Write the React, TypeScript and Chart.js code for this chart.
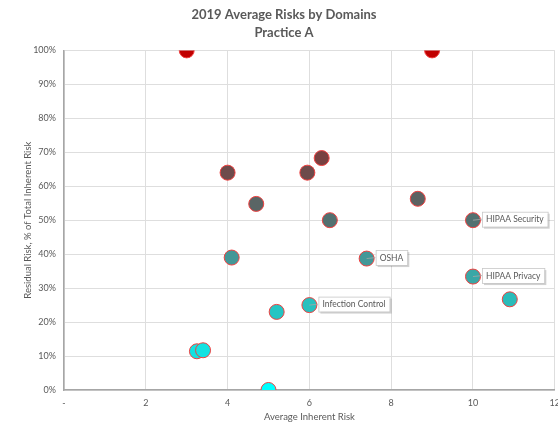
import React, { useEffect, useRef } from "react";
import { Chart, registerables } from "chart.js";

Chart.register(...registerables);

const xValues = [3.0, 9.0, 4.0, 5.95, 6.3, 4.7, 6.5, 8.65, 10.0, 4.1, 7.4, 10.0, 10.9, 6.0, 5.2, 3.25, 3.4, 5.0];
const yValues = [100, 100, 64, 64, 68.3, 54.8, 50, 56.3, 50, 39, 38.7, 33.4, 26.7, 25, 23, 11.4, 11.7, 0];
const pointLabels = ["", "", "", "", "", "", "", "", "HIPAA Security", "", "OSHA", "HIPAA Privacy", "", "Infection Control", "", "", "", ""];
const titleLines = ["2019 Average Risks by Domains", "Practice A"];
const xTitle = "Average Inherent Risk";
const yTitle = "Residual Risk, % of Total Inherent Risk";

const FONT = "Lato, 'Open Sans', sans-serif";
const TEXT = "#595959";

const stops: [number, number[]][] = [
  [0, [0, 255, 255]],
  [25, [40, 192, 190]],
  [40, [70, 148, 148]],
  [50, [82, 112, 112]],
  [56, [92, 98, 98]],
  [65, [112, 72, 72]],
  [100, [192, 0, 0]],
];
function colorFor(v: number) {
  for (let i = 0; i < stops.length - 1; i++) {
    const [a, ca] = stops[i];
    const [b, cb] = stops[i + 1];
    if (v >= a && v <= b) {
      const t = (v - a) / (b - a);
      const c = ca.map((x, k) => Math.round(x + (cb[k] - x) * t));
      return `rgb(${c[0]},${c[1]},${c[2]})`;
    }
  }
  return "rgb(192,0,0)";
}

const labelPlugin = {
  id: "calloutLabels",
  afterDatasetsDraw(chart: any) {
    const ctx = chart.ctx;
    const meta = chart.getDatasetMeta(0);
    ctx.save();
    ctx.font = `8.5px ${FONT}`;
    meta.data.forEach((el: any, i: number) => {
      const text = pointLabels[i];
      if (!text) return;
      const px = el.x;
      const py = el.y;
      const w = ctx.measureText(text).width + 8;
      const h = 15;
      const bx = px + 9;
      const by = py - h / 2 - 1;
      ctx.strokeStyle = "#a6a6a6";
      ctx.lineWidth = 0.8;
      ctx.beginPath();
      ctx.moveTo(px, py);
      ctx.lineTo(bx, by + h / 2);
      ctx.stroke();
      ctx.fillStyle = "rgba(0,0,0,0.18)";
      ctx.fillRect(bx + 2, by + 2, w, h);
      ctx.fillStyle = "#ffffff";
      ctx.fillRect(bx, by, w, h);
      ctx.strokeStyle = "#c8c8c8";
      ctx.strokeRect(bx + 0.5, by + 0.5, w, h);
      ctx.fillStyle = TEXT;
      ctx.textBaseline = "middle";
      ctx.textAlign = "left";
      ctx.fillText(text, bx + 4, by + h / 2 + 0.5);
    });
    ctx.restore();
  },
};

export default function App() {
  const ref = useRef<HTMLCanvasElement>(null);
  useEffect(() => {
    if (!ref.current) return;
    const data = xValues.map((x, i) => ({ x, y: yValues[i] }));
    const chart = new Chart(ref.current, {
      type: "scatter",
      data: {
        datasets: [
          {
            data,
            pointRadius: 7.5,
            pointHoverRadius: 7.5,
            pointBackgroundColor: yValues.map(colorFor),
            pointBorderColor: "#f04040",
            pointBorderWidth: 1,
          },
        ],
      },
      options: {
        responsive: false,
        animation: false,
        layout: { padding: { left: 0, right: 0, top: 0, bottom: 0 } },
        plugins: {
          legend: { display: false },
          tooltip: { enabled: false },
          title: {
            display: true,
            text: titleLines,
            color: TEXT,
            font: { family: FONT, size: 13, weight: "bold", lineHeight: 1.4 },
            padding: { top: 6, bottom: 8 },
          },
        },
        scales: {
          x: {
            type: "linear",
            min: 0,
            max: 12,
            afterFit: (s: any) => { s.height = 34; },
            ticks: {
              stepSize: 2,
              color: TEXT,
              font: { family: FONT, size: 9 },
              padding: 8,
              maxRotation: 0,
              callback: (v: any) => (v === 0 ? "-" : String(v)),
            },
            grid: { color: "#dedede", drawTicks: false },
            border: { color: "#a6a6a6", width: 1.5 },
            title: { display: true, text: xTitle, color: TEXT, font: { family: FONT, size: 9.5 }, padding: { top: 0, bottom: 1 } },
          },
          y: {
            min: 0,
            max: 100,
            afterFit: (s: any) => { s.width = 64; },
            ticks: {
              stepSize: 10,
              color: TEXT,
              font: { family: FONT, size: 9 },
              padding: 8,
              callback: (v: any) => `${v}%`,
            },
            grid: { color: "#dedede", drawTicks: false },
            border: { color: "#a6a6a6", width: 1.5 },
            title: { display: true, text: yTitle, color: TEXT, font: { family: FONT, size: 9.5 }, padding: { top: 22, bottom: 0 } },
          },
        },
      },
      plugins: [labelPlugin],
    } as any);
    return () => chart.destroy();
  }, []);
  return (
    <div style={{ position: "absolute", left: 0, top: 0, width: 558, height: 424, overflow: "hidden", background: "#fff" }}>
      <canvas ref={ref} width={568} height={424} />
    </div>
  );
}
